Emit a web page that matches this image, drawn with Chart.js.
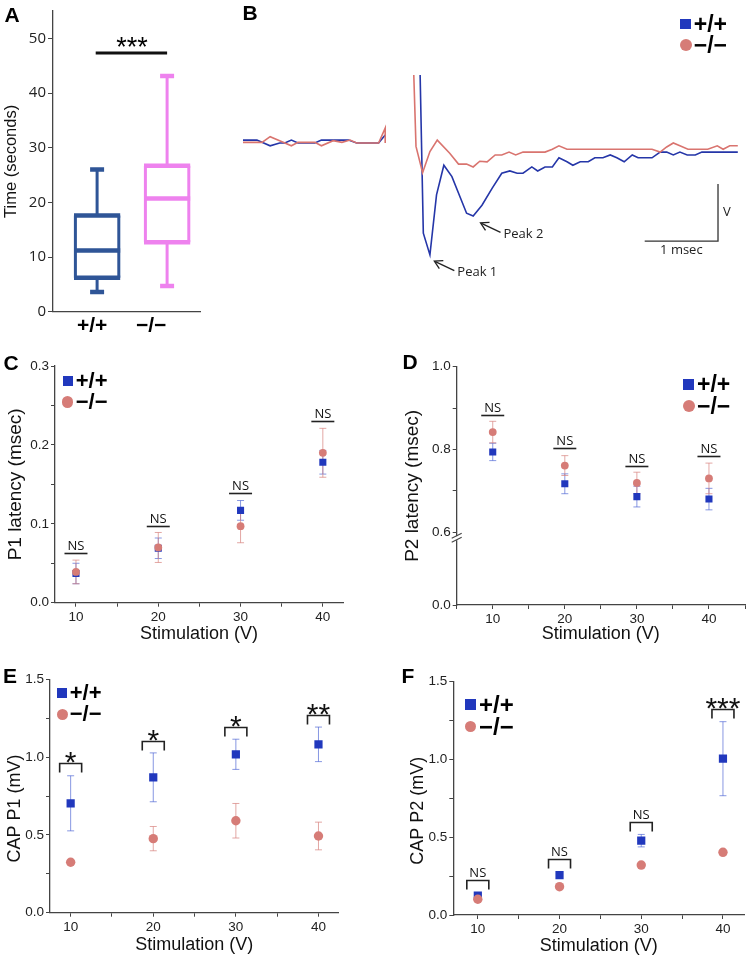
<!DOCTYPE html>
<html>
<head>
<meta charset="utf-8">
<script src="https://cdn.jsdelivr.net/npm/chart.js@4.4.1/dist/chart.umd.min.js"></script>
<style>
  body { margin: 0; background: #fff; width: 750px; height: 958px; position: relative; overflow: hidden;
         font-family: 'Liberation Sans', Arial, Helvetica, sans-serif; }
  .panel { position: absolute; }
  .letter { position: absolute; font-weight: bold; font-size: 21px; line-height: 21px; transform: translate(-50%, -50%); }
  .legtxt { position: absolute; font-weight: bold; white-space: nowrap; }
</style>
</head>
<body>
<div class="panel" style="left:0;top:0"><canvas id="chartA" width="215" height="340"></canvas></div>
<div class="panel" style="left:230px;top:0"><canvas id="chartB" width="520" height="320"></canvas></div>
<div class="panel" style="left:0;top:340px"><canvas id="chartC" width="375" height="305"></canvas></div>
<div class="panel" style="left:375px;top:340px"><canvas id="chartD" width="375" height="305"></canvas></div>
<div class="panel" style="left:0;top:650px"><canvas id="chartE" width="375" height="308"></canvas></div>
<div class="panel" style="left:375px;top:650px"><canvas id="chartF" width="375" height="308"></canvas></div>

<script>
// ---------- dados ----------
const genotypes = ['+/+', '\u2212/\u2212'];

// A: tempo (s), box plot
const boxMin = [3.6, 4.7];
const boxQ1 = [6.2, 12.7];
const boxMedian = [11.2, 20.7];
const boxQ3 = [17.6, 26.7];
const boxMax = [26.0, 43.1];
const boxSigLabel = '***';
const boxSigY = 47.3;
const timeTicks = [0, 10, 20, 30, 40, 50];

// B: traço do CAP (msec, V)
const traceWT_t = [0.00, 0.19, 0.37, 0.50, 0.57, 0.66, 0.75, 0.98, 1.07, 1.44, 1.55, 1.85, 1.94, 2.20,
  2.41, 2.46, 2.55, 2.64, 2.74, 2.85, 3.05, 3.14, 3.26, 3.40, 3.53, 3.64, 3.74, 3.82, 3.94, 4.02, 4.12, 4.22,
  4.31, 4.42, 4.50, 4.60, 4.71, 4.80, 4.91, 5.01, 5.10, 5.20, 5.31, 5.39, 5.58, 5.69, 5.78, 5.87, 5.96, 6.06,
  6.17, 6.26, 6.75];
const traceWT_v = [0.05, 0.05, -0.05, 0.00, 0.00, 0.05, 0.00, 0.00, 0.05, 0.05, 0.00, 0.00, 0.14, null,
  1.60, -1.58, -1.96, -0.91, -0.39, -0.59, -1.23, -1.28, -1.09, -0.79, -0.53, -0.49, -0.53, -0.53, -0.42, -0.49, -0.42, -0.42,
  -0.26, -0.33, -0.39, -0.33, -0.33, -0.26, -0.26, -0.21, -0.26, -0.33, -0.21, -0.26, -0.26, -0.16, -0.16, -0.21, -0.16, -0.21,
  -0.21, -0.16, -0.16];
const traceKO_t = [0.00, 0.26, 0.37, 0.50, 0.66, 0.75, 0.98, 1.07, 1.23, 1.35, 1.46, 1.55, 1.85, 1.94, 1.94, 2.10,
  2.32, 2.36, 2.45, 2.55, 2.65, 2.82, 2.94, 3.05, 3.14, 3.23, 3.33, 3.44, 3.53, 3.63, 3.72, 3.82, 4.12, 4.22,
  4.31, 4.42, 5.58, 5.69, 5.78, 5.87, 5.96, 6.07, 6.34, 6.47, 6.55, 6.64, 6.75];
const traceKO_v = [0.01, 0.01, 0.11, 0.04, -0.05, 0.01, 0.01, -0.05, 0.04, 0.01, 0.05, 0.00, 0.00, 0.26, 0.00, null,
  1.60, -0.06, -0.52, -0.15, 0.05, -0.18, -0.37, -0.37, -0.42, -0.32, -0.33, -0.21, -0.21, -0.16, -0.21, -0.16, -0.16, -0.11,
  -0.05, -0.11, -0.11, -0.16, -0.07, 0.00, -0.05, -0.11, -0.11, -0.05, -0.11, -0.05, -0.05];
const scaleBarT = [5.48, 6.48, 6.48];
const scaleBarV = [-1.72, -1.72, -0.72];
const peakLabels = ['Peak 1', 'Peak 2'];
const peakT = [2.61, 3.24];
const peakV = [-2.07, -1.40];

// C-F: estímulo (V)
const stimV = [10, 20, 30, 40];

const p1LatWT = [0.037, 0.069, 0.117, 0.178];
const p1LatWTErr = [0.013, 0.013, 0.0125, 0.015];
const p1LatKO = [0.039, 0.070, 0.097, 0.190];
const p1LatKOErr = [0.015, 0.019, 0.021, 0.031];
const p1LatSig = ['NS', 'NS', 'NS', 'NS'];
const p1LatSigY = [0.063, 0.097, 0.139, 0.230];

const p2LatWT = [0.794, 0.717, 0.686, 0.680];
const p2LatWTErr = [0.021, 0.024, 0.025, 0.026];
const p2LatKO = [0.842, 0.761, 0.719, 0.730];
const p2LatKOErr = [0.026, 0.024, 0.026, 0.037];
const p2LatSig = ['NS', 'NS', 'NS', 'NS'];
const p2LatSigY = [0.883, 0.803, 0.761, 0.783];

const capP1WT = [0.703, 0.870, 1.018, 1.082];
const capP1WTErr = [0.177, 0.157, 0.097, 0.111];
const capP1KO = [0.324, 0.476, 0.591, 0.493];
const capP1KOErr = [0, 0.078, 0.111, 0.089];
const capP1Sig = ['*', '*', '*', '**'];
const capP1SigY = [0.964, 1.106, 1.196, 1.271];

const capP2WT = [0.124, 0.257, 0.478, 1.005];
const capP2WTErr = [0.012, 0.010, 0.040, 0.238];
const capP2KO = [0.101, 0.182, 0.321, 0.403];
const capP2KOErr = [0, 0, 0, 0];
const capP2Sig = ['NS', 'NS', 'NS', '***'];
const capP2SigY = [0.225, 0.362, 0.600, 1.324];

// ticks
const stimTicks = [10, 15, 20, 25, 30, 35, 40];
const stimLabels = ['10', '', '20', '', '30', '', '40'];
const stimTicksD = [5, 10, 15, 20, 25, 30, 35, 40, 45];
const stimLabelsD = ['', '10', '', '20', '', '30', '', '40', ''];
const p1Ticks = [0, 0.05, 0.1, 0.15, 0.2, 0.25, 0.3];
const p1Labels = ['0.0', '', '0.1', '', '0.2', '', '0.3'];
const p2BreakFloor = 0.424; // posição do "0.0" abaixo da quebra do eixo
const p2Ticks = [p2BreakFloor, 0.6, 0.7, 0.8, 0.9, 1.0];
const p2Labels = ['0.0', '0.6', '', '0.8', '', '1.0'];
const capTicks = [0, 0.25, 0.5, 0.75, 1.0, 1.25, 1.5];
const capLabels = ['0.0', '', '0.5', '', '1.0', '', '1.5'];

// ---------- estilo ----------
const FONT = "'Liberation Sans', Arial, Helvetica, sans-serif";
const NOTE_FONT = "'Open Sans', 'DejaVu Sans', sans-serif";
const AXIS_COL = '#444';
const BLUE = '#2138bd';
const RED = '#d67c77';
const BLUE_ERR = 'rgba(70, 95, 210, 0.65)';
const RED_ERR = 'rgba(215, 130, 125, 0.7)';
const BOX_COLORS = ['#2f5597', '#ee82ee'];
const TRACE_COLORS = ['#2536a8', '#d9746f'];

Chart.defaults.font.family = FONT;
Chart.defaults.color = '#222';

const baseOptions = {
  responsive: false,
  animation: false,
  devicePixelRatio: 1,
  events: [],
  plugins: { legend: { display: false }, tooltip: { enabled: false } }
};

function linAxis(o) {
  return {
    type: 'linear',
    min: o.min,
    max: o.max,
    display: true,
    afterBuildTicks: (s) => { s.ticks = o.ticks.map((v) => ({ value: v })); },
    afterFit: (s) => { if (o.horizontal) s.height = o.fit; else s.width = o.fit; },
    border: { color: AXIS_COL, width: 1.3 },
    grid: { display: o.gridTicks !== false, drawOnChartArea: false, color: AXIS_COL, tickLength: o.tickLength || 4, lineWidth: 1 },
    ticks: {
      display: o.labels !== null,
      autoSkip: false,
      maxRotation: 0,
      padding: o.tickPad || 2,
      color: '#222',
      font: { size: o.tickSize || 13.5, family: o.tickFont || FONT },
      callback: (v, i) => (o.labels ? o.labels[i] : '')
    },
    title: {
      display: !!o.title,
      text: o.title,
      color: '#111',
      font: { size: o.titleSize || 18, family: FONT },
      padding: o.titlePad || { top: 4, bottom: 4 }
    }
  };
}

function xy(xs, ys) {
  return xs.map((x, i) => ({ x: x, y: ys[i] }));
}

// barras de erro (desenhadas antes dos pontos)
const errorBars = {
  id: 'errorBars',
  beforeDatasetsDraw(chart) {
    const { ctx, scales: { x, y } } = chart;
    chart.data.datasets.forEach((ds) => {
      if (!ds.errors) return;
      ctx.save();
      ctx.strokeStyle = ds.errorColor;
      ctx.lineWidth = 1;
      ds.data.forEach((p, j) => {
        const e = ds.errors[j];
        if (!e) return;
        const px = x.getPixelForValue(p.x);
        const top = y.getPixelForValue(p.y + e);
        const bot = y.getPixelForValue(p.y - e);
        ctx.beginPath();
        ctx.moveTo(px, top); ctx.lineTo(px, bot);
        ctx.moveTo(px - 3.5, top); ctx.lineTo(px + 3.5, top);
        ctx.moveTo(px - 3.5, bot); ctx.lineTo(px + 3.5, bot);
        ctx.stroke();
      });
      ctx.restore();
    });
  }
};

// marcas de significância (NS / asteriscos)
function sigMarks(labels, ys, bracket) {
  return {
    id: 'sigMarks',
    afterDatasetsDraw(chart) {
      const { ctx, scales: { x, y } } = chart;
      ctx.save();
      ctx.strokeStyle = '#222';
      ctx.fillStyle = '#111';
      ctx.lineWidth = 1.6;
      ctx.textAlign = 'center';
      ctx.textBaseline = 'alphabetic';
      labels.forEach((lab, i) => {
        const px = x.getPixelForValue(stimV[i]);
        const py = Math.round(y.getPixelForValue(ys[i])) + 0.5;
        ctx.beginPath();
        if (bracket) {
          ctx.moveTo(px - 11, py + 9); ctx.lineTo(px - 11, py);
          ctx.lineTo(px + 11, py); ctx.lineTo(px + 11, py + 9);
        } else {
          ctx.moveTo(px - 11.5, py); ctx.lineTo(px + 11.5, py);
        }
        ctx.stroke();
        if (lab.indexOf('*') >= 0) {
          ctx.font = '30px ' + FONT;
          ctx.fillText(lab, px, py + 8);
        } else {
          ctx.font = '13px ' + NOTE_FONT;
          ctx.fillText(lab, px, py - 4);
        }
      });
      ctx.restore();
    }
  };
}

function scatterPanel(id, cfg) {
  return new Chart(document.getElementById(id), {
    type: 'scatter',
    data: {
      datasets: [
        {
          label: genotypes[0], data: xy(stimV, cfg.wt), errors: cfg.wtErr, errorColor: BLUE_ERR,
          pointStyle: 'rect', pointRadius: cfg.sq, backgroundColor: BLUE, borderWidth: 0, order: 1
        },
        {
          label: genotypes[1], data: xy(stimV, cfg.ko), errors: cfg.koErr, errorColor: RED_ERR,
          pointStyle: 'circle', pointRadius: cfg.circ, backgroundColor: RED, borderWidth: 0, order: 0
        }
      ]
    },
    options: Object.assign({}, baseOptions, {
      layout: { padding: cfg.padding },
      scales: { x: cfg.x, y: cfg.y }
    }),
    plugins: [errorBars, sigMarks(cfg.sig, cfg.sigY, cfg.bracket)].concat(cfg.extra || [])
  });
}

// ---------- A: box plot ----------
const HALF_BOX = 0.33;
const HALF_CAP = 0.1;
const boxDatasets = [];
genotypes.forEach((g, i) => {
  const c = i + 1;
  const gap = { x: c, y: null };
  boxDatasets.push({
    data: [
      { x: c - HALF_BOX + 0.02, y: boxQ1[i] }, { x: c - HALF_BOX + 0.02, y: boxQ3[i] }, gap,
      { x: c + HALF_BOX - 0.02, y: boxQ1[i] }, { x: c + HALF_BOX - 0.02, y: boxQ3[i] }, gap,
      { x: c, y: boxQ3[i] }, { x: c, y: boxMax[i] }, gap,
      { x: c, y: boxQ1[i] }, { x: c, y: boxMin[i] }
    ],
    borderColor: BOX_COLORS[i], borderWidth: 3
  });
  boxDatasets.push({
    data: [
      { x: c - HALF_BOX, y: boxQ1[i] }, { x: c + HALF_BOX, y: boxQ1[i] }, gap,
      { x: c - HALF_BOX, y: boxMedian[i] }, { x: c + HALF_BOX, y: boxMedian[i] }, gap,
      { x: c - HALF_BOX, y: boxQ3[i] }, { x: c + HALF_BOX, y: boxQ3[i] }, gap,
      { x: c - HALF_CAP, y: boxMax[i] }, { x: c + HALF_CAP, y: boxMax[i] }, gap,
      { x: c - HALF_CAP, y: boxMin[i] }, { x: c + HALF_CAP, y: boxMin[i] }
    ],
    borderColor: BOX_COLORS[i], borderWidth: 4.5
  });
});
boxDatasets.push({
  data: [{ x: 0.98, y: boxSigY }, { x: 2.0, y: boxSigY }],
  borderColor: '#111', borderWidth: 3
});
boxDatasets.forEach((d) => Object.assign(d, { pointRadius: 0, spanGaps: false, borderCapStyle: 'butt', fill: false }));

const boxLabels = {
  id: 'boxLabels',
  afterDraw(chart) {
    const { ctx, scales: { x, y } } = chart;
    ctx.save();
    ctx.fillStyle = '#000';
    ctx.textAlign = 'center';
    ctx.textBaseline = 'middle';
    ctx.font = 'bold 21px ' + FONT;
    const shift = [-5, -16];
    genotypes.forEach((g, i) => ctx.fillText(g, x.getPixelForValue(i + 1) + shift[i], y.bottom + 15));
    ctx.font = '27px ' + FONT;
    ctx.textBaseline = 'alphabetic';
    ctx.fillText(boxSigLabel, x.getPixelForValue(1.5), y.getPixelForValue(boxSigY) + 3);
    ctx.restore();
  }
};

new Chart(document.getElementById('chartA'), {
  type: 'line',
  data: { datasets: boxDatasets },
  options: Object.assign({}, baseOptions, {
    layout: { padding: { top: 8, right: 15 } },
    scales: {
      x: linAxis({ min: 0.37, max: 2.47, ticks: [], labels: null, horizontal: true, fit: 28.3, gridTicks: false }),
      y: linAxis({ min: 0, max: 55, ticks: timeTicks, labels: timeTicks.map(String), fit: 53, tickLength: 5,
                   tickSize: 15, tickFont: "'Open Sans', sans-serif", title: 'Time (seconds)', titleSize: 16.5,
                   titlePad: { top: 2, bottom: 0 } })
    }
  }),
  plugins: [boxLabels]
});

// ---------- B: traços ----------
const traceNotes = {
  id: 'traceNotes',
  afterDraw(chart) {
    const { ctx, scales: { x, y } } = chart;
    ctx.save();
    ctx.fillStyle = '#222';
    ctx.strokeStyle = '#222';
    ctx.font = '13px ' + NOTE_FONT;
    ctx.textBaseline = 'middle';
    peakLabels.forEach((lab, i) => {
      const tx = x.getPixelForValue(peakT[i]);
      const ty = y.getPixelForValue(peakV[i]);
      const ex = tx + 20, ey = ty + 9.5;
      ctx.lineWidth = 1.3;
      ctx.beginPath(); ctx.moveTo(ex, ey); ctx.lineTo(tx + 1, ty + 0.5); ctx.stroke();
      ctx.beginPath();
      ctx.moveTo(tx + 9, ty - 0.5); ctx.lineTo(tx, ty); ctx.lineTo(tx + 5, ty + 7.5);
      ctx.stroke();
      ctx.textAlign = 'left';
      ctx.fillText(lab, ex + 3, ey + 2);
    });
    const bx0 = x.getPixelForValue(scaleBarT[0]), bx1 = x.getPixelForValue(scaleBarT[1]);
    const by0 = y.getPixelForValue(scaleBarV[1]), by1 = y.getPixelForValue(scaleBarV[2]);
    ctx.textAlign = 'center';
    ctx.fillText('1 msec', (bx0 + bx1) / 2, by0 + 9);
    ctx.textAlign = 'left';
    ctx.fillText('V', bx1 + 5, (by0 + by1) / 2);
    ctx.restore();
  }
};

new Chart(document.getElementById('chartB'), {
  type: 'line',
  data: {
    datasets: [
      { data: xy(traceKO_t, traceKO_v), borderColor: TRACE_COLORS[1], borderWidth: 1.6 },
      { data: xy(traceWT_t, traceWT_v), borderColor: TRACE_COLORS[0], borderWidth: 1.6 },
      { data: xy(scaleBarT, scaleBarV), borderColor: '#333', borderWidth: 1.3 }
    ].map((d) => Object.assign(d, { pointRadius: 0, spanGaps: false, tension: 0, fill: false }))
  },
  options: Object.assign({}, baseOptions, {
    layout: { padding: { left: 13, right: 10, top: 75, bottom: 20 } },
    scales: {
      x: { type: 'linear', display: false, min: 0, max: 6.78 },
      y: { type: 'linear', display: false, min: -2.75, max: 1.19 }
    }
  }),
  plugins: [traceNotes]
});

// ---------- C ----------
scatterPanel('chartC', {
  wt: p1LatWT, wtErr: p1LatWTErr, ko: p1LatKO, koErr: p1LatKOErr,
  sig: p1LatSig, sigY: p1LatSigY, bracket: false, sq: 5, circ: 3.9,
  padding: { top: 26, right: 32 },
  x: linAxis({ min: 7.45, max: 42.45, ticks: stimTicks, labels: stimLabels, horizontal: true, fit: 42.3,
               title: 'Stimulation (V)', titlePad: { top: 0, bottom: 0 } }),
  y: linAxis({ min: 0, max: 0.3, ticks: p1Ticks, labels: p1Labels, fit: 55, title: 'P1 latency (msec)', titleSize: 19 })
});

// ---------- D (eixo com quebra) ----------
const axisBreak = {
  id: 'axisBreak',
  afterDraw(chart) {
    const { ctx, scales: { x, y } } = chart;
    const ax = x.left, ay = y.getPixelForValue(0.6) + 5;
    ctx.save();
    ctx.fillStyle = '#fff';
    ctx.fillRect(ax - 2, ay - 1, 4, 4);
    ctx.strokeStyle = AXIS_COL;
    ctx.lineWidth = 1.1;
    ctx.beginPath();
    ctx.moveTo(ax - 5, ay + 1); ctx.lineTo(ax + 5, ay - 4);
    ctx.moveTo(ax - 5, ay + 5); ctx.lineTo(ax + 5, ay);
    ctx.stroke();
    ctx.restore();
  }
};

scatterPanel('chartD', {
  wt: p2LatWT, wtErr: p2LatWTErr, ko: p2LatKO, koErr: p2LatKOErr,
  sig: p2LatSig, sigY: p2LatSigY, bracket: false, sq: 5, circ: 3.9,
  padding: { top: 26.7, right: 4, left: 22 },
  x: linAxis({ min: 5, max: 45, ticks: stimTicksD, labels: stimLabelsD, horizontal: true, fit: 40,
               title: 'Stimulation (V)', titlePad: { top: 0, bottom: 0 } }),
  y: linAxis({ min: p2BreakFloor, max: 1.0, ticks: p2Ticks, labels: p2Labels, fit: 59.7, title: 'P2 latency (msec)', titleSize: 19 }),
  extra: [axisBreak]
});

// ---------- E ----------
scatterPanel('chartE', {
  wt: capP1WT, wtErr: capP1WTErr, ko: capP1KO, koErr: capP1KOErr,
  sig: capP1Sig, sigY: capP1SigY, bracket: true, sq: 5.8, circ: 4.7,
  padding: { top: 29.3, right: 36.7 },
  x: linAxis({ min: 7.5, max: 42.4, ticks: stimTicks, labels: stimLabels, horizontal: true, fit: 45.3,
               title: 'Stimulation (V)', titlePad: { top: 0, bottom: 2 } }),
  y: linAxis({ min: 0, max: 1.5, ticks: capTicks, labels: capLabels, fit: 50, title: 'CAP P1 (mV)     ' })
});

// ---------- F ----------
scatterPanel('chartF', {
  wt: capP2WT, wtErr: capP2WTErr, ko: capP2KO, koErr: capP2KOErr,
  sig: capP2Sig, sigY: capP2SigY, bracket: true, sq: 5.8, circ: 4.7,
  padding: { top: 31.7, right: 5, left: 28 },
  x: linAxis({ min: 7.0, max: 42.6, ticks: stimTicks, labels: stimLabels, horizontal: true, fit: 43,
               title: 'Stimulation (V)', titlePad: { top: 0, bottom: 1 } }),
  y: linAxis({ min: 0, max: 1.5, ticks: capTicks, labels: capLabels, fit: 50.3, title: 'CAP P2 (mV)     ' })
});

// ---------- letras dos painéis e legendas (HTML) ----------
const panelLetters = [['A', 12, 14], ['B', 250, 12], ['C', 11, 362], ['D', 410, 361], ['E', 10, 675], ['F', 408, 675]];
panelLetters.forEach(([t, x, y]) => {
  const d = document.createElement('div');
  d.className = 'letter';
  d.textContent = t;
  d.style.left = x + 'px';
  d.style.top = y + 'px';
  document.body.appendChild(d);
});

function addLegend(cx, y1, y2, sq, circ, fs) {
  const items = [
    { y: y1, size: sq, radius: '0', color: BLUE },
    { y: y2, size: circ, radius: '50%', color: RED }
  ];
  items.forEach((it, i) => {
    const m = document.createElement('div');
    m.style.cssText = `position:absolute;left:${cx - it.size / 2}px;top:${it.y - it.size / 2}px;width:${it.size}px;height:${it.size}px;background:${it.color};border-radius:${it.radius}`;
    document.body.appendChild(m);
    const t = document.createElement('div');
    t.className = 'legtxt';
    t.textContent = genotypes[i];
    t.style.cssText += `left:${cx + sq / 2 + 3}px;top:${it.y - fs / 2}px;font-size:${fs}px;line-height:${fs}px`;
    document.body.appendChild(t);
  });
}
addLegend(685.5, 24, 45, 10.5, 12, 23);
addLegend(67.7, 381, 402, 10, 11.5, 22);
addLegend(688.5, 384, 406, 11, 12, 23);
addLegend(62, 693, 714, 9.5, 11, 22);
addLegend(470.5, 704.5, 726.5, 11, 11.5, 24);
</script>
</body>
</html>
